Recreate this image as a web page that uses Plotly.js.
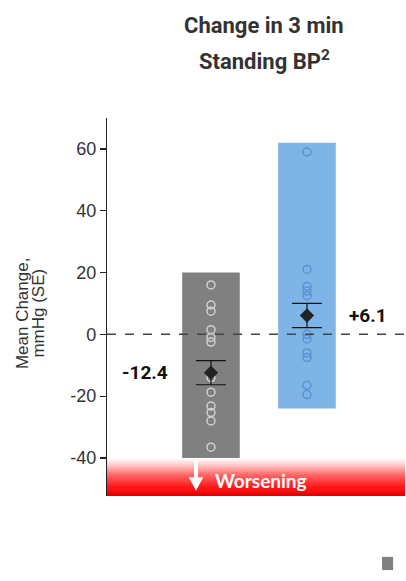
<!DOCTYPE html>
<html>
<head>
<meta charset="utf-8">
<script src="https://cdn.plot.ly/plotly-3.0.1.min.js"></script>
<style>
  html, body { margin: 0; padding: 0; background: #ffffff; }
  #chart { width: 406px; height: 581px; }
</style>
</head>
<body>
<div id="chart"></div>
<script>
// Two treatment groups, each drawn as a min–max range box with individual patient changes
const groups = ['Group 1', 'Group 2'];
const rangeLow = [-40, -24];
const rangeHigh = [20, 62];
const means = [-12.4, 6.1];
const standardErrors = [3.9, 3.9];
const pointsGroup1 = [16, 9.5, 7.5, 1.5, -1, -2.5, -14, -18.7, -23.2, -25.3, -28, -36.5];
const pointsGroup2 = [59, 21, 15.5, 14, 12.5, 0, -1.5, -6, -7.5, -16.5, -19.5];
const yTicks = [-40, -20, 0, 20, 40, 60];
const yRange = [-52.3, 70];
const worseningBand = [-40, -52.3];

const idx = groups.map((_, i) => i);
const xRange = [-1.083, 2.021];

const fmt = v => (v > 0 ? '+' : '') + v.toFixed(1);

// white arrow pointing down into the worsening zone (x in group units, y in mmHg)
const arrowX = -0.156;
const arrowTop = -40.8, arrowNeck = -46.2, arrowTip = -50.6, arrowHalf = 0.075;

const traces = [
  // red "worsening" zone, fading upward
  {
    type: 'scatter',
    x: [xRange[0], xRange[1], xRange[1], xRange[0], xRange[0]],
    y: [worseningBand[0], worseningBand[0], worseningBand[1], worseningBand[1], worseningBand[0]],
    mode: 'lines',
    line: { width: 0, color: 'rgba(0,0,0,0)' },
    fill: 'toself',
    fillgradient: {
      type: 'vertical',
      colorscale: [
        [0, '#ee0000'],
        [0.25, '#ff1a1a'],
        [0.55, '#ff6666'],
        [0.82, '#ffcccc'],
        [1, '#ffffff']
      ]
    },
    hoverinfo: 'skip',
    showlegend: false
  },
  // range boxes
  {
    type: 'bar',
    x: idx,
    base: rangeLow,
    y: rangeHigh.map((h, i) => h - rangeLow[i]),
    width: 0.6,
    marker: { color: ['#808080', '#7fb4e6'], line: { width: 0 } },
    hoverinfo: 'skip',
    showlegend: false
  },
  // individual values
  {
    type: 'scatter',
    mode: 'markers',
    x: pointsGroup1.map(() => idx[0]),
    y: pointsGroup1,
    marker: { symbol: 'circle-open', size: 8, color: '#cfcfcf', line: { width: 1.5, color: '#cfcfcf' } },
    showlegend: false
  },
  {
    type: 'scatter',
    mode: 'markers',
    x: pointsGroup2.map(() => idx[1]),
    y: pointsGroup2,
    marker: { symbol: 'circle-open', size: 8, color: '#5d92d2', line: { width: 1.5, color: '#5d92d2' } },
    showlegend: false
  },
  // mean ± SE
  {
    type: 'scatter',
    mode: 'markers',
    x: idx,
    y: means,
    marker: { symbol: 'diamond', size: 11, color: '#222222' },
    error_y: { type: 'data', array: standardErrors, visible: true, color: '#111111', thickness: 1.2, width: 15 },
    showlegend: false
  }
];

const layout = {
  width: 406,
  height: 581,
  margin: { l: 107, r: 1, t: 118, b: 85 },
  paper_bgcolor: '#ffffff',
  plot_bgcolor: 'rgba(0,0,0,0)',
  showlegend: false,
  font: { family: 'Liberation Sans, Arial, sans-serif', color: '#333333' },
  xaxis: {
    range: xRange,
    showgrid: false, zeroline: false, showline: false,
    showticklabels: false, ticks: '', fixedrange: true
  },
  yaxis: {
    range: yRange,
    tickvals: yTicks,
    ticktext: yTicks.map(String),
    showgrid: false, zeroline: false,
    showline: true, linecolor: '#222222', linewidth: 1.2,
    ticks: 'outside', ticklen: 6, tickcolor: '#222222', tickwidth: 1.2,
    tickfont: { size: 18, color: '#333333', family: 'Liberation Sans, Arial, sans-serif' },
    fixedrange: true
  },
  shapes: [
    // zero reference line
    { type: 'line', xref: 'paper', x0: 0, x1: 1, yref: 'y', y0: 0, y1: 0,
      line: { color: '#444444', width: 1.5, dash: 'dash' }, layer: 'above' },
    // bottom red edge
    { type: 'line', xref: 'paper', x0: 0, x1: 1, yref: 'paper', y0: 0.003, y1: 0.003,
      line: { color: '#e00000', width: 2 }, layer: 'above' },
    // arrow shaft and head
    { type: 'line', xref: 'x', yref: 'y', x0: arrowX, x1: arrowX, y0: arrowTop, y1: arrowNeck,
      line: { color: '#ffffff', width: 4 }, layer: 'above' },
    { type: 'path', xref: 'x', yref: 'y',
      path: 'M ' + (arrowX - arrowHalf) + ' ' + arrowNeck + ' L ' + (arrowX + arrowHalf) + ' ' + arrowNeck +
            ' L ' + arrowX + ' ' + arrowTip + ' Z',
      fillcolor: '#ffffff', line: { width: 0 }, layer: 'above' },
    // small marker in the corner
    { type: 'rect', xref: 'paper', yref: 'paper', x0: 0.923, x1: 0.960, y0: -0.196, y1: -0.161,
      fillcolor: '#808080', line: { width: 0 } }
  ],
  annotations: [
    { text: '<b>Change in 3 min</b>', xref: 'paper', yref: 'paper', x: 0.527, y: 1.246,
      xanchor: 'center', yanchor: 'middle', showarrow: false,
      font: { family: 'Roboto, sans-serif', size: 22, color: '#333333' } },
    { text: '<b>Standing BP<sup>2</sup></b>', xref: 'paper', yref: 'paper', x: 0.527, y: 1.153,
      xanchor: 'center', yanchor: 'middle', showarrow: false,
      font: { family: 'Roboto, sans-serif', size: 22, color: '#333333' } },
    { text: 'Mean Change,', xref: 'paper', yref: 'paper', x: -0.285, y: 0.484,
      xanchor: 'center', yanchor: 'middle', textangle: -90, showarrow: false,
      font: { family: 'Liberation Sans, Arial, sans-serif', size: 17, color: '#333333' } },
    { text: 'mmHg (SE)', xref: 'paper', yref: 'paper', x: -0.233, y: 0.484,
      xanchor: 'center', yanchor: 'middle', textangle: -90, showarrow: false,
      font: { family: 'Liberation Sans, Arial, sans-serif', size: 17, color: '#333333' } },
    { text: '<b>' + fmt(means[0]) + '</b>', xref: 'x', yref: 'y', x: -0.69, y: means[0],
      xanchor: 'center', yanchor: 'middle', showarrow: false,
      font: { family: 'Roboto, sans-serif', size: 19, color: '#111111' } },
    { text: '<b>' + fmt(means[1]) + '</b>', xref: 'x', yref: 'y', x: 1.635, y: means[1],
      xanchor: 'center', yanchor: 'middle', showarrow: false,
      font: { family: 'Roboto, sans-serif', size: 19, color: '#111111' } },
    { text: '<b>Worsening</b>', xref: 'paper', yref: 'paper', x: 0.517, y: 0.04,
      xanchor: 'center', yanchor: 'middle', showarrow: false,
      font: { family: 'Lato, sans-serif', size: 19, color: '#ffffff' } }
  ]
};

Plotly.newPlot('chart', traces, layout, { displayModeBar: false, staticPlot: true });
</script>
</body>
</html>
